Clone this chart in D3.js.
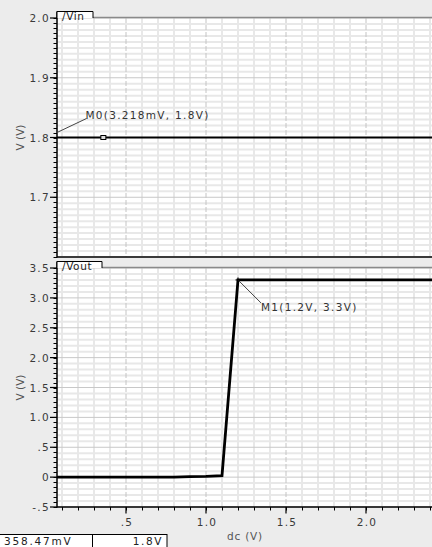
<!DOCTYPE html>
<html><head><meta charset="utf-8">
<script src="https://cdn.jsdelivr.net/npm/d3@7"></script>
<style>
html,body{margin:0;padding:0;background:#ececec;overflow:hidden}
svg{display:block;font-family:"DejaVu Sans",sans-serif}
</style></head>
<body><svg id="c" width="432" height="547"></svg>
<script>
// ---- data ----
const dcVin = [0.0, 0.5, 1.0, 1.5, 2.0, 2.5];
const vinValues = [1.8, 1.8, 1.8, 1.8, 1.8, 1.8];
const dcVout = [0.0, 0.1, 0.2, 0.3, 0.4, 0.5, 0.6, 0.7, 0.8, 0.85, 0.9, 1.0, 1.1, 1.2, 1.3, 1.4, 1.5, 1.6, 1.7, 1.8, 1.9, 2.0, 2.1, 2.2, 2.3, 2.4, 2.5];
const voutValues = [0, 0, 0, 0, 0, 0, 0, 0, 0, 0.004, 0.01, 0.012, 0.025, 3.3, 3.3, 3.3, 3.3, 3.3, 3.3, 3.3, 3.3, 3.3, 3.3, 3.3, 3.3, 3.3, 3.3];
const xTickValues = [0.5, 1.0, 1.5, 2.0];
const xTickLabels = [".5", "1.0", "1.5", "2.0"];
const vinTickValues = [1.7, 1.8, 1.9, 2.0];
const vinTickLabels = ["1.7", "1.8", "1.9", "2.0"];
const voutTickValues = [-0.5, 0, 0.5, 1.0, 1.5, 2.0, 2.5, 3.0, 3.5];
const voutTickLabels = ["-.5", "0", ".5", "1.0", "1.5", "2.0", "2.5", "3.0", "3.5"];
const marker0 = {x: 0.003218, y: 1.8, label: "M0(3.218mV, 1.8V)"};
const marker1 = {x: 1.2, y: 3.3, label: "M1(1.2V, 3.3V)"};
const cursor = {x: 0.35847, y: 1.8, xText: "358.47mV", yText: "1.8V"};
const xTitle = "dc (V)", yTitle = "V (V)";

// ---- layout ----
const svg = d3.select("#c");
const L = 57, R = 432;
const x = d3.scaleLinear().domain([0, 2.5]).range([46, 446]);
const panels = [
  {name: "/Vin", top: 18, bottom: 257, dom: [1.6, 2.0], minorY: 0.01, tickMinor: 0.1/12,
   ticks: vinTickValues, labels: vinTickLabels, xs: dcVin, ys: vinValues, boxTop: 11.5, boxRight: 93, showX: false},
  {name: "/Vout", top: 268, bottom: 507, dom: [-0.5, 3.5], minorY: 0.1, tickMinor: 0.5/6,
   ticks: voutTickValues, labels: voutTickLabels, xs: dcVout, ys: voutValues, boxTop: 261.5, boxRight: 102, showX: true}
];

svg.append("defs").append("clipPath").attr("id","clipAll")
  .append("rect").attr("x", L).attr("y", 0).attr("width", R - L).attr("height", 547);

const range = (a, b, s) => { const out = []; const n = Math.round((b - a) / s); for (let i = 0; i <= n; i++) out.push(a + i * s); return out; };

panels.forEach((p, pi) => {
  const y = d3.scaleLinear().domain(p.dom).range([p.bottom, p.top]);
  p.y = y;
  const g = svg.append("g");
  g.append("rect").attr("x", L).attr("y", p.top).attr("width", R - L).attr("height", p.bottom - p.top).attr("fill", "#fff");
  const grid = g.append("g").attr("clip-path", "url(#clipAll)");
  const minorX = range(0, 2.5, 0.1).filter(v => Math.abs(v*2 - Math.round(v*2)) > 1e-6);
  grid.selectAll(".mx").data(minorX).enter().append("line")
    .attr("x1", d => x(d)).attr("x2", d => x(d)).attr("y1", p.top).attr("y2", p.bottom)
    .attr("stroke", "#e8e8e8").attr("stroke-width", 2);
  const minorYs = range(p.dom[0], p.dom[1], p.minorY).filter(v => !p.ticks.some(t => Math.abs(t - v) < 1e-6));
  grid.selectAll(".my").data(minorYs).enter().append("line")
    .attr("x1", L).attr("x2", R).attr("y1", d => y(d)).attr("y2", d => y(d))
    .attr("stroke", "#e8e8e8").attr("stroke-width", 2);
  grid.selectAll(".Mx").data(xTickValues).enter().append("line")
    .attr("x1", d => x(d)).attr("x2", d => x(d)).attr("y1", p.top).attr("y2", p.bottom)
    .attr("stroke", "#c4c4c4").attr("stroke-width", 1).attr("stroke-dasharray", "5,2");
  grid.selectAll(".My").data(p.ticks).enter().append("line")
    .attr("x1", L).attr("x2", R).attr("y1", d => y(d)).attr("y2", d => y(d))
    .attr("stroke", "#c8c8c8").attr("stroke-width", 1);

  const line = d3.line().x(d => x(d[0])).y(d => y(d[1]));
  grid.append("path").datum(p.xs.map((v, i) => [v, p.ys[i]]))
    .attr("d", line).attr("fill", "none").attr("stroke", "#000")
    .attr("stroke-width", pi === 0 ? 2 : 2.8).attr("stroke-linejoin", "miter");

  const minorTicks = range(p.dom[0], p.dom[1], p.tickMinor);
  g.selectAll(".yt").data(minorTicks).enter().append("line")
    .attr("x1", L - 3.5).attr("x2", L).attr("y1", d => Math.round(y(d)) + 0.5).attr("y2", d => Math.round(y(d)) + 0.5)
    .attr("stroke", "#000").attr("stroke-width", 1);
  g.selectAll(".yT").data(p.ticks).enter().append("line")
    .attr("x1", L - 7).attr("x2", L).attr("y1", d => y(d)).attr("y2", d => y(d))
    .attr("stroke", "#000").attr("stroke-width", 1.2);
  g.selectAll(".yl").data(p.ticks).enter().append("text")
    .attr("x", L - 7).attr("y", d => y(d) + 4).attr("text-anchor", "end")
    .attr("font-size", 10.5).attr("letter-spacing", 1.3).attr("fill", "#3a3a3a")
    .text((d, i) => p.labels[i]);
  g.append("line").attr("x1", L).attr("x2", L).attr("y1", p.boxTop).attr("y2", p.bottom + 0.5)
    .attr("stroke", "#000").attr("stroke-width", 1.5);
  g.append("text").attr("transform", `translate(24,${(p.top + p.bottom) / 2}) rotate(-90)`)
    .attr("text-anchor", "middle").attr("font-size", 10.5).attr("fill", "#555").text(yTitle);

  g.append("line").attr("x1", L).attr("x2", R).attr("y1", p.bottom).attr("y2", p.bottom)
    .attr("stroke", "#000").attr("stroke-width", 1.5);
  g.append("line").attr("x1", p.boxRight).attr("x2", R).attr("y1", p.top - 0.5).attr("y2", p.top - 0.5)
    .attr("stroke", "#8a8a8a").attr("stroke-width", 1.5);
  g.append("rect").attr("x", L).attr("y", p.boxTop).attr("width", p.boxRight - L).attr("height", p.top - p.boxTop)
    .attr("fill", "#fff");
  g.append("path").attr("d", `M${L},${p.top}V${p.boxTop}H${p.boxRight}V${p.top}`)
    .attr("fill", "none").attr("stroke", "#000").attr("stroke-width", 1);
  g.append("text").attr("x", L + 5).attr("y", p.boxTop + 8.5).attr("font-size", 10.5)
    .attr("letter-spacing", 0.6).attr("fill", "#222").text(p.name);

  if (p.showX) {
    const minorXT = range(0, 2.5, 0.1);
    g.append("g").attr("clip-path", "url(#clipAll)").selectAll(".xt").data(minorXT).enter().append("line")
      .attr("x1", d => Math.round(x(d)) + 0.5).attr("x2", d => Math.round(x(d)) + 0.5)
      .attr("y1", p.bottom).attr("y2", p.bottom + 3.5).attr("stroke", "#000");
    g.selectAll(".xT").data(xTickValues).enter().append("line")
      .attr("x1", d => x(d)).attr("x2", d => x(d)).attr("y1", p.bottom).attr("y2", p.bottom + 6.5)
      .attr("stroke", "#000").attr("stroke-width", 1.2);
    g.selectAll(".xl").data(xTickValues).enter().append("text")
      .attr("x", d => x(d) + 1).attr("y", p.bottom + 19).attr("text-anchor", "middle")
      .attr("font-size", 10.5).attr("letter-spacing", 1.3).attr("fill", "#3a3a3a")
      .text((d, i) => xTickLabels[i]);
    g.append("text").attr("x", 245).attr("y", p.bottom + 33).attr("text-anchor", "middle")
      .attr("font-size", 10.5).attr("letter-spacing", 0.8).attr("fill", "#555").text(xTitle);
  }
});

const pTop = panels[0], pBot = panels[1];
const mk = svg.append("g").attr("clip-path", "url(#clipAll)");
const m0x = x(marker0.x), m0y = pTop.y(marker0.y);
mk.append("line").attr("x1", m0x).attr("y1", m0y).attr("x2", m0x + 40).attr("y2", m0y - 19)
  .attr("stroke", "#444").attr("stroke-width", 1);
mk.append("text").attr("x", m0x + 39).attr("y", m0y - 19).attr("font-size", 10.5)
  .attr("letter-spacing", 1.3).attr("fill", "#333").text(marker0.label);
const m1x = x(marker1.x), m1y = pBot.y(marker1.y);
mk.append("line").attr("x1", m1x).attr("y1", m1y).attr("x2", m1x + 23).attr("y2", m1y + 23)
  .attr("stroke", "#444").attr("stroke-width", 1);
mk.append("path").attr("d", `M${m1x-2.5},${m1y}H${m1x+2.5}M${m1x},${m1y-2.5}V${m1y+2.5}`)
  .attr("stroke", "#000").attr("stroke-width", 1);
mk.append("text").attr("x", m1x + 23).attr("y", m1y + 31).attr("font-size", 10.5)
  .attr("letter-spacing", 1.3).attr("fill", "#333").text(marker1.label);
const cx = x(cursor.x), cy = pTop.y(cursor.y);
mk.append("rect").attr("x", cx - 2.5).attr("y", cy - 2).attr("width", 5).attr("height", 4)
  .attr("fill", "#ddd").attr("stroke", "#000").attr("stroke-width", 1);

const rb = svg.append("g");
rb.append("rect").attr("x", -1).attr("y", 534.5).attr("width", 168).attr("height", 20)
  .attr("fill", "#fff").attr("stroke", "#000").attr("stroke-width", 1);
rb.append("line").attr("x1", 92.5).attr("x2", 92.5).attr("y1", 534.5).attr("y2", 547).attr("stroke", "#000");
rb.append("text").attr("x", 4).attr("y", 544.5).attr("font-size", 10.5).attr("letter-spacing", 1.8)
  .attr("fill", "#222").text(cursor.xText);
rb.append("text").attr("x", 163).attr("y", 544.5).attr("text-anchor", "end").attr("font-size", 10.5)
  .attr("letter-spacing", 1.6).attr("fill", "#222").text(cursor.yText);
</script></body></html>
